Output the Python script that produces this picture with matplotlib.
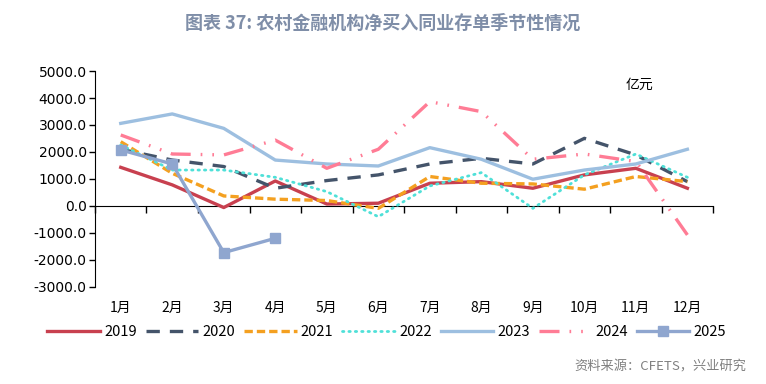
import matplotlib
matplotlib.use("Agg")
import matplotlib.pyplot as plt
import numpy as np

months = ["1月", "2月", "3月", "4月", "5月", "6月", "7月", "8月", "9月", "10月", "11月", "12月"]
y2019 = [1430, 780, -60, 925, 70, 100, 840, 900, 655, 1150, 1395, 655]
y2020 = [2100, 1700, 1460, 655, 940, 1150, 1555, 1765, 1555, 2505, 1890, 900]
y2021 = [2380, 1210, 370, 250, 200, -90, 1090, 840, 815, 620, 1090, 900]
y2022 = [2260, 1330, 1330, 1060, 530, -400, 740, 1235, -90, 1150, 1925, 1060]
y2023 = [3060, 3410, 2875, 1700, 1555, 1480, 2160, 1730, 990, 1330, 1555, 2100]
y2024 = [2630, 1925, 1890, 2440, 1395, 2100, 3865, 3495, 1730, 1925, 1645, -1075]
y2025 = [2075, 1555, -1730, -1200]

plt.rcParams['font.family'] = ['Noto Sans CJK SC', 'DejaVu Sans']

fig = plt.figure(figsize=(7.66, 3.84), dpi=100)
ax = fig.add_axes([0.124, 0.253, 0.807, 0.562])
x = np.arange(len(months))

lw = 2.4
ax.plot(x, y2019, color="#c8404f", lw=lw, label="2019")
ax.plot(x, y2020, color="#44546a", lw=lw, ls=(0, (4, 3)), label="2020")
ax.plot(x, y2021, color="#f4a020", lw=lw, ls=(0, (2.5, 1.2)), label="2021")
ax.plot(x, y2022, color="#4fe0d8", lw=2.0, ls=(0, (0.5, 1.8)), dash_capstyle='round', label="2022")
ax.plot(x, y2023, color="#9dbfe0", lw=lw, label="2023")
ax.plot(x, y2024, color="#ff7c95", lw=lw, ls=(0, (6, 3, 0.5, 3, 0.5, 3)), label="2024")
ax.plot(x[:len(y2025)], y2025, color="#8fa6cf", lw=lw, marker="s", ms=7, label="2025")

ax.set_xlim(-0.5, 11.5)
ax.set_ylim(-3000, 5000)
ax.set_yticks(np.arange(-3000, 5001, 1000))
ax.set_yticklabels([f"{v:.1f}" for v in np.arange(-3000, 5001, 1000)], fontsize=10, family='DejaVu Sans')
ax.tick_params(axis='y', direction='out', length=4, width=1, pad=2)

ax.set_xticks(x)
ax.set_xticklabels(months, fontsize=10)
ax.tick_params(axis='x', length=0, pad=10)
for s in ['top', 'right', 'bottom']:
    ax.spines[s].set_visible(False)
ax.spines['left'].set_color('black')

sec = ax.secondary_xaxis(0.375)
sec.set_xticks(np.arange(-0.5, 12.0, 1.0))
sec.set_xticklabels([])
sec.tick_params(direction='out', length=5, width=1)
sec.spines['bottom'].set_color('black')

fig.text(0.5, 0.94, "图表 37: 农村金融机构净买入同业存单季节性情况", ha='center', va='center',
         fontsize=13, fontweight='bold', color='#7f8ea8')
fig.text(0.835, 0.78, "亿元", ha='center', va='center', fontsize=10)
fig.text(0.975, 0.045, "资料来源：CFETS，兴业研究", ha='right', va='center', fontsize=9.5, color='#808080')

leg = fig.legend(loc='center', bbox_to_anchor=(0.505, 0.135), ncol=7, frameon=False,
                 fontsize=10.5, handlelength=3.6, handletextpad=0.3, columnspacing=0.6)

fig.savefig("out.png", dpi=100)
